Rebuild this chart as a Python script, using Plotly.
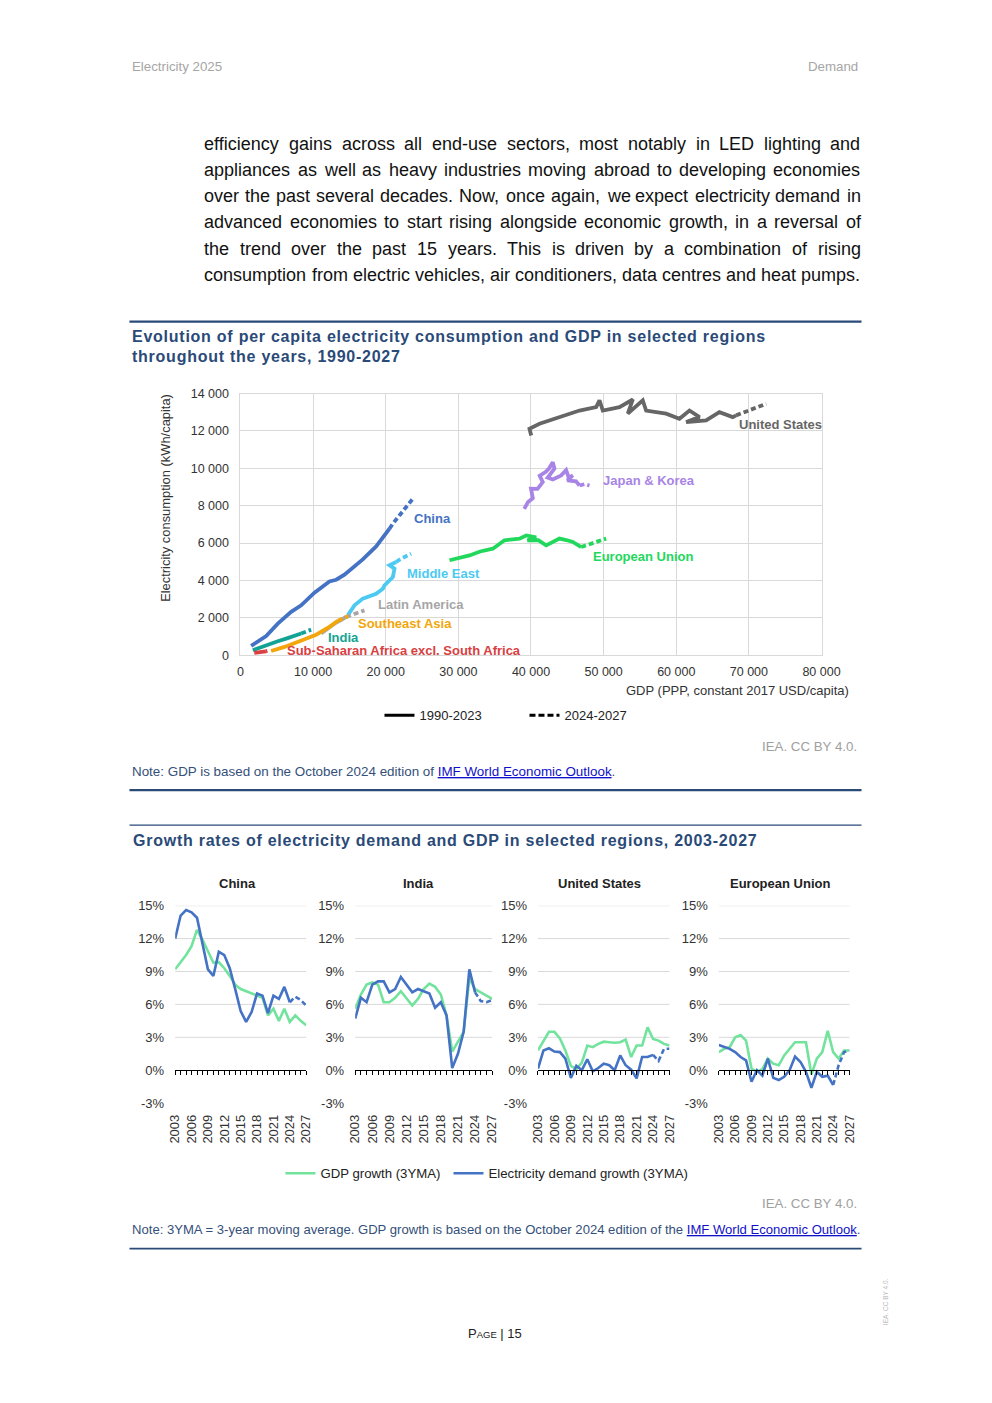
import plotly.graph_objects as go

W, H = 992, 1403
FONT = "Liberation Sans, Arial, Helvetica, sans-serif"

# the page is shown with a small offset/scale; map target page pixels to paper fractions
OX, SX = 8.55, 0.9727
OY, SY = 6.1, 0.9903


def X(px):
    return (px - OX) / (SX * W)


def Y(py):
    return 1 - (py - OY) / (SY * H)


# ---------------- page text ----------------
header_left = "Electricity 2025"
header_right = "Demand"
body_lines = [
    "efficiency gains across all end-use sectors, most notably in LED lighting and",
    "appliances as well as heavy industries moving abroad to developing economies",
    "over the past several decades. Now, once again, we expect electricity demand in",
    "advanced economies to start rising alongside economic growth, in a reversal of",
    "the trend over the past 15 years. This is driven by a combination of rising",
    "consumption from electric vehicles, air conditioners, data centres and heat pumps.",
]
title1_lines = [
    "Evolution of per capita electricity consumption and GDP in selected regions",
    "throughout the years, 1990-2027",
]
title2 = "Growth rates of electricity demand and GDP in selected regions, 2003-2027"
credit = "IEA. CC BY 4.0."
note1_pre = "Note: GDP is based on the October 2024 edition of "
note2_pre = "Note: 3YMA = 3-year moving average. GDP growth is based on the October 2024 edition of the "
note_link = "IMF World Economic Outlook"

# ---------------- chart 1 data (GDP USD/capita, kWh/capita) ----------------
c1_xticks = [0, 10000, 20000, 30000, 40000, 50000, 60000, 70000, 80000]
c1_xticktext = ["0", "10 000", "20 000", "30 000", "40 000", "50 000", "60 000", "70 000", "80 000"]
c1_yticks = [0, 2000, 4000, 6000, 8000, 10000, 12000, 14000]
c1_yticktext = ["0", "2 000", "4 000", "6 000", "8 000", "10 000", "12 000", "14 000"]
c1_xtitle = "GDP (PPP, constant 2017 USD/capita)"
c1_ytitle = "Electricity consumption (kWh/capita)"
c1_legend = ["1990-2023", "2024-2027"]

us_gdp = [40030, 39790, 41170, 43920, 46680, 48970, 49430, 49890, 52180, 54020, 53330, 55390, 55850,
          58610, 60440, 61820, 63200, 61360, 64110, 65940, 67780, 68240]
us_kwh = [11760, 12110, 12380, 12740, 13090, 13270, 13630, 13090, 13270, 13680, 12920, 13630, 13090,
          12920, 12650, 13090, 12740, 12470, 12560, 13000, 12740, 12830]
us_gdp_p = [68240, 70300, 72380]
us_kwh_p = [12830, 13150, 13450]

jk_gdp = [39070, 39600, 40250, 40000, 40900, 41620, 41200, 42000, 42500, 43000, 43230, 42300, 43000,
          44150, 44840, 45200, 45760, 45000, 46200, 46680]
jk_kwh = [7830, 8200, 8400, 8910, 8900, 9260, 9600, 9800, 10000, 10330, 9980, 9500, 9400,
          9620, 9900, 9500, 9620, 9350, 9300, 9080]
jk_gdp_p = [46680, 47400, 48050]
jk_kwh_p = [9080, 9150, 9080]

eu_gdp = [28780, 30000, 31530, 33000, 34740, 36350, 38420, 39340, 40710, 39500, 41000, 42090, 43920, 45000, 45760, 46910]
eu_kwh = [5080, 5200, 5340, 5550, 5700, 6150, 6240, 6410, 6300, 6150, 6150, 5880, 6240, 6150, 6060, 5790]
eu_gdp_p = [46910, 48500, 50350]
eu_kwh_p = [5790, 6000, 6240]

cn_gdp = [1470, 3540, 5140, 6980, 8360, 10190, 12250, 13180, 14320, 16840, 18680, 20520]
cn_kwh = [500, 1030, 1690, 2320, 2670, 3350, 3950, 4040, 4310, 5130, 5820, 6770]
cn_gdp_p = [20520, 20980, 23730]
cn_kwh_p = [6770, 7040, 8370]

me_gdp = [14770, 15700, 16840, 18680, 19600, 19830, 20980, 21210, 20520, 21440]
me_kwh = [2140, 2670, 3030, 3290, 3560, 3740, 4180, 4630, 4810, 4990]
me_gdp_p = [21440, 22130, 23500]
me_kwh_p = [4990, 5170, 5430]

la_gdp = [11100, 11800, 12250, 12700, 13180, 13900, 14550]
la_kwh = [1160, 1350, 1520, 1600, 1750, 1900, 2050]
la_gdp_p = [14550, 15700, 17070]
la_kwh_p = [2050, 2230, 2400]

sea_gdp = [4220, 6060, 8120, 10420, 12250, 13400]
sea_kwh = [230, 445, 750, 1100, 1520, 1850]
sea_gdp_p = [13400, 14100, 14800]
sea_kwh_p = [1850, 1960, 2080]

in_gdp = [1700, 2850, 3990, 5140, 6290, 7440, 8360]
in_kwh = [270, 445, 620, 750, 890, 1030, 1160]
in_gdp_p = [8360, 9040, 9730]
in_kwh_p = [1160, 1280, 1370]

ssa_gdp = [1900, 2300, 2700, 3100, 3500]
ssa_kwh = [130, 160, 150, 190, 210]
ssa_gdp_p = [3500, 3700]
ssa_kwh_p = [210, 230]

# ---------------- chart 2 data (3-year moving average growth, %) ----------------
years = [2003, 2004, 2005, 2006, 2007, 2008, 2009, 2010, 2011, 2012, 2013, 2014, 2015,
         2016, 2017, 2018, 2019, 2020, 2021, 2022, 2023, 2024, 2025, 2026, 2027]
year_ticks = [2003, 2006, 2009, 2012, 2015, 2018, 2021, 2024, 2027]
year_ticktext = ["2003", "2006", "2009", "2012", "2015", "2018", "2021", "2024", "2027"]
pct_ticks = [-3, 0, 3, 6, 9, 12, 15]
pct_ticktext = ["-3%", "0%", "3%", "6%", "9%", "12%", "15%"]
grid_levels = [3, 6, 9, 12, 15]
panel_names = ["China", "India", "United States", "European Union"]
series_names = ["GDP growth (3YMA)", "Electricity demand growth (3YMA)"]
first_projection_year = 2024

china_gdp = [9.2, 9.8, 10.5, 11.3, 12.8, 11.9, 10.8, 9.8, 9.85, 9.3, 8.6, 7.8, 7.4,
             7.2, 7.0, 6.8, 6.6, 5.0, 5.6, 4.5, 5.6, 4.4, 5.0, 4.5, 4.1]
china_elec = [12.0, 14.1, 14.6, 14.4, 13.9, 11.6, 9.2, 8.6, 10.8, 10.5, 9.3, 7.4, 5.4,
              4.4, 5.3, 7.0, 6.8, 5.2, 6.8, 6.5, 7.6, 6.2, 6.7, 6.4, 5.9]
india_gdp = [5.6, 6.9, 7.8, 8.0, 7.8, 6.2, 6.2, 6.6, 7.2, 6.5, 5.9, 6.5, 7.4,
             7.9, 7.6, 6.9, 5.0, 1.7, 2.6, 3.5, 8.4, 7.4, 7.1, 6.8, 6.5]
india_elec = [4.7, 6.6, 6.2, 7.8, 8.1, 8.1, 7.1, 7.4, 8.5, 7.8, 7.1, 7.4, 7.2,
              7.0, 5.7, 6.2, 5.0, 0.2, 1.5, 3.5, 9.2, 7.1, 6.3, 6.2, 6.4]
us_gdp_g = [1.8, 2.7, 3.5, 3.5, 2.9, 1.8, 0.4, 0.1, 0.7, 2.25, 2.1, 2.4, 2.6,
            2.55, 2.5, 2.55, 2.8, 1.2, 2.25, 2.25, 3.9, 2.85, 2.7, 2.4, 2.25]
us_elec_g = [0.15, 1.8, 2.0, 1.7, 1.65, 1.05, -0.7, 0.4, 0.0, 1.0, -0.1, 0.2, 0.6,
             0.45, 0.0, 1.35, 0.45, 0.05, -0.75, 1.2, 1.2, 1.4, 0.85, 1.95, 1.95]
eu_gdp_g = [1.65, 1.95, 2.1, 3.0, 3.2, 2.7, 0.15, -0.15, 0.1, 1.05, 0.6, 0.45, 1.35,
            1.95, 2.55, 2.55, 2.55, -0.4, 1.05, 1.65, 3.6, 1.65, 1.05, 1.8, 1.8]
eu_elec_g = [2.3, 2.1, 1.95, 1.65, 1.2, 0.9, -1.05, 0.0, -0.5, 1.05, -0.7, -0.9, -0.6,
             0.0, 1.25, 0.75, -0.15, -1.6, -0.15, -0.6, -0.5, -1.35, 0.45, 1.65, 1.8]

# ---------------- styles ----------------
C_TITLE = "#2a4a78"
C_NOTE = "#34507a"
C_GRID = "#d9d9d9"
C_GDP = "#72e39c"
C_ELEC = "#4472c4"
DASH = "5px,3px"

regions = [
    ("United States", us_gdp, us_kwh, us_gdp_p, us_kwh_p, "#666666", (738, 424)),
    ("Japan & Korea", jk_gdp, jk_kwh, jk_gdp_p, jk_kwh_p, "#a884e6", (602, 480)),
    ("European Union", eu_gdp, eu_kwh, eu_gdp_p, eu_kwh_p, "#22d85c", (593, 556)),
    ("China", cn_gdp, cn_kwh, cn_gdp_p, cn_kwh_p, "#4472c4", (414, 518)),
    ("Middle East", me_gdp, me_kwh, me_gdp_p, me_kwh_p, "#4ccaf2", (407, 573)),
    ("Latin America", la_gdp, la_kwh, la_gdp_p, la_kwh_p, "#a6a6a6", (378, 604)),
    ("Southeast Asia", sea_gdp, sea_kwh, sea_gdp_p, sea_kwh_p, "#f2a60c", (358, 623)),
    ("India", in_gdp, in_kwh, in_gdp_p, in_kwh_p, "#13a394", (328, 637)),
    ("Sub-Saharan Africa excl. South Africa", ssa_gdp, ssa_kwh, ssa_gdp_p, ssa_kwh_p, "#d9403f", (287, 650)),
]

panels = [
    ("China", china_gdp, china_elec, (175.7, 306.7), 238),
    ("India", india_gdp, india_elec, (355.7, 492.7), 419),
    ("United States", us_gdp_g, us_elec_g, (538.5, 670.0), 600),
    ("European Union", eu_gdp_g, eu_elec_g, (719.3, 850.0), 780),
]

fig = go.Figure()
annotations = []
shapes = []


def ann(px, py, text, size, color, bold=False, xanchor="left", yanchor="middle", angle=0, family=FONT):
    annotations.append(dict(
        x=X(px), y=Y(py), xref="paper", yref="paper", text=(f"<b>{text}</b>" if bold else text),
        showarrow=False, xanchor=xanchor, yanchor=yanchor, textangle=angle,
        font=dict(size=size, color=color, family=family), borderpad=0,
    ))


def hline(py, x0, x1, width, color):
    shapes.append(dict(type="line", xref="paper", yref="paper", x0=X(x0), x1=X(x1),
                       y0=Y(py), y1=Y(py), line=dict(color=color, width=width)))


# ---------------- page header / body ----------------
ann(132, 66, header_left, 13.3, "#a6a6a6")
ann(859, 66, header_right, 13.3, "#a6a6a6", xanchor="right")

AW = {' ': 278, ',': 278, '.': 278, '-': 333, 'a': 556, 'b': 556, 'c': 500, 'd': 556, 'e': 556, 'f': 278,
      'g': 556, 'h': 556, 'i': 222, 'j': 222, 'k': 500, 'l': 222, 'm': 833, 'n': 556, 'o': 556, 'p': 556,
      'q': 556, 'r': 333, 's': 500, 't': 278, 'u': 556, 'v': 500, 'w': 722, 'x': 500, 'y': 500, 'z': 500,
      'L': 556, 'E': 667, 'D': 722, 'N': 722, 'T': 611}


def tw(s, size):
    return sum(AW.get(c, 556) for c in s) * size / 1000


BODY_FS = 18
body_y = [143, 169, 195, 221, 248, 274]
BL, BR = 204, 860
for line, by in zip(body_lines, body_y):
    words = line.split(" ")
    widths = [tw(w, BODY_FS) for w in words]
    gap = (BR - BL - sum(widths)) / (len(words) - 1)
    xx = BL
    for w, wd in zip(words, widths):
        ann(xx, by, w, BODY_FS, "#111111")
        xx += wd + gap

# ---------------- chart 1 ----------------
hline(321, 130, 862, 2.2, C_TITLE)
for i, t in enumerate(title1_lines):
    ann(132, 336 + 20 * i, f'<span style="letter-spacing:0.75px">{t}</span>', 16, C_TITLE, bold=True)

for name, gx, ky, gxp, kyp, col, (lx, ly) in regions:
    fig.add_trace(go.Scatter(x=gx, y=ky, mode="lines", line=dict(color=col, width=3.8),
                             showlegend=False, hoverinfo="skip", xaxis="x", yaxis="y"))
    fig.add_trace(go.Scatter(x=gxp, y=kyp, mode="lines", line=dict(color=col, width=3.8, dash=DASH),
                             showlegend=False, hoverinfo="skip", xaxis="x", yaxis="y"))
    ann(lx, ly, name, 13, col, bold=True)

fig.add_trace(go.Scatter(x=[None], y=[None], mode="lines", name=c1_legend[0], legend="legend",
                         legendwidth=100, line=dict(color="black", width=3), xaxis="x", yaxis="y"))
fig.add_trace(go.Scatter(x=[None], y=[None], mode="lines", name=c1_legend[1], legend="legend",
                         legendwidth=90, line=dict(color="black", width=3, dash="6px,3px"), xaxis="x", yaxis="y"))

ann(166, 497, c1_ytitle, 12.9, "#333333", xanchor="center", angle=-90)
ann(850, 690, c1_xtitle, 13, "#333333", xanchor="right")
ann(858, 746, credit, 13.3, "#a0a0a0", xanchor="right")
ann(132, 771, f'{note1_pre}<span style="color:#1010c8"><u>{note_link}</u></span>.', 13.4, C_NOTE)
hline(790, 130, 862, 2.2, C_TITLE)

layout_axes = {}
layout_axes["xaxis"] = dict(domain=[X(241), X(822)], range=[0, 80000], tickvals=c1_xticks, ticktext=c1_xticktext,
                            showgrid=True, gridcolor=C_GRID, showline=True, linecolor=C_GRID, mirror=True,
                            zeroline=False, ticks="", tickfont=dict(size=12.5, color="#333", family=FONT),
                            anchor="y", ticklabelstandoff=5, fixedrange=True)
layout_axes["yaxis"] = dict(domain=[Y(655), Y(393)], range=[0, 14000], tickvals=c1_yticks, ticktext=c1_yticktext,
                            showgrid=True, gridcolor=C_GRID, showline=True, linecolor=C_GRID, mirror=True,
                            zeroline=False, ticks="", tickfont=dict(size=12.5, color="#333", family=FONT),
                            anchor="x", ticklabelstandoff=8, fixedrange=True)

# ---------------- chart 2 ----------------
hline(825, 130, 862, 1.2, C_TITLE)
ann(133, 840, f'<span style="letter-spacing:0.75px">{title2}</span>', 16, C_TITLE, bold=True)

ydom = [Y(1103.3), Y(905.7)]
for i, (pname, gdp, elec, (x0, x1), tcx) in enumerate(panels):
    n = i + 2
    xa, ya = f"x{n}", f"y{n}"
    split = years.index(first_projection_year)
    fig.add_trace(go.Scatter(x=years, y=gdp, mode="lines", line=dict(color=C_GDP, width=2.6),
                             name=series_names[0], legend="legend2", showlegend=(i == 0), legendwidth=123,
                             hoverinfo="skip", xaxis=xa, yaxis=ya))
    fig.add_trace(go.Scatter(x=years[:split + 1], y=elec[:split + 1], mode="lines",
                             line=dict(color=C_ELEC, width=2.6), name=series_names[1], legend="legend2",
                             legendwidth=215, showlegend=(i == 0), hoverinfo="skip", xaxis=xa, yaxis=ya))
    fig.add_trace(go.Scatter(x=years[split:], y=elec[split:], mode="lines",
                             line=dict(color=C_ELEC, width=2.6, dash=DASH), showlegend=False,
                             hoverinfo="skip", xaxis=xa, yaxis=ya))
    # invisible trace to host the zero-line axis
    fig.add_trace(go.Scatter(x=[], y=[], mode="lines", showlegend=False, hoverinfo="skip",
                             xaxis=f"x{n + 4}", yaxis=ya))
    layout_axes[f"xaxis{n}"] = dict(domain=[X(x0), X(x1)], range=[years[0], years[-1]], anchor=ya,
                                    tickvals=year_ticks, ticktext=year_ticktext, tickangle=-90,
                                    showgrid=False, zeroline=False, showline=False, ticks="",
                                    ticklabelstandoff=8,
                                    tickfont=dict(size=13, color="#333", family=FONT), fixedrange=True)
    layout_axes[f"yaxis{n}"] = dict(domain=ydom, range=[pct_ticks[0], pct_ticks[-1]], anchor=xa,
                                    tickvals=pct_ticks, ticktext=pct_ticktext, showgrid=False,
                                    zeroline=False, showline=False, ticks="", ticklabelstandoff=10,
                                    tickfont=dict(size=13, color="#333", family=FONT), fixedrange=True)
    zero_pos = ydom[0] + (0 - pct_ticks[0]) / (pct_ticks[-1] - pct_ticks[0]) * (ydom[1] - ydom[0])
    layout_axes[f"xaxis{n + 4}"] = dict(overlaying=xa, anchor="free", position=zero_pos,
                                        range=[years[0], years[-1]], tick0=years[0], dtick=1,
                                        showline=True, linecolor="#000", linewidth=1, ticks="outside",
                                        ticklen=4, tickcolor="#000", tickwidth=1, showticklabels=False,
                                        showgrid=False, zeroline=False, fixedrange=True)
    for g in grid_levels:
        shapes.append(dict(type="line", xref=f"{xa} domain", yref=ya, x0=0, x1=1, y0=g, y1=g,
                           line=dict(color=C_GRID, width=1), layer="below"))
    ann(tcx, 883, pname, 13, "#222222", bold=True, xanchor="center")

ann(858, 1204, credit, 13.3, "#a0a0a0", xanchor="right")
ann(132, 1230, f'{note2_pre}<span style="color:#1010c8"><u>{note_link}</u></span>.', 13.1, C_NOTE)
hline(1249, 130, 862, 1.6, C_TITLE)

# ---------------- footer ----------------
ann(496, 1334, 'P<span style="font-size:9.5px">AGE</span> | 15', 13, "#222222", xanchor="center")
ann(886, 1302, credit, 6.5, "#bbbbbb", xanchor="center", angle=-90)

fig.update_layout(
    width=W, height=H, autosize=False,
    margin=dict(l=0, r=0, t=0, b=0, pad=0),
    paper_bgcolor="white", plot_bgcolor="white",
    font=dict(family=FONT, color="#333"),
    annotations=annotations, shapes=shapes,
    legend=dict(orientation="h", x=X(380), y=Y(715), xanchor="left", yanchor="middle",
                font=dict(size=13, color="#222", family=FONT), bgcolor="rgba(0,0,0,0)",
                itemwidth=30, itemclick=False, itemdoubleclick=False),
    legend2=dict(orientation="h", x=X(281), y=Y(1174), xanchor="left", yanchor="middle",
                 font=dict(size=13.2, color="#222", family=FONT), bgcolor="rgba(0,0,0,0)",
                 itemwidth=30, itemclick=False, itemdoubleclick=False),
    hovermode=False,
    **layout_axes,
)

fig.write_html(
    "out.html",
    config={"displayModeBar": False, "staticPlot": True},
    post_script="document.body.style.margin='0';document.body.style.padding='0';"
                "document.documentElement.style.overflow='hidden';document.body.style.overflow='hidden';",
)
